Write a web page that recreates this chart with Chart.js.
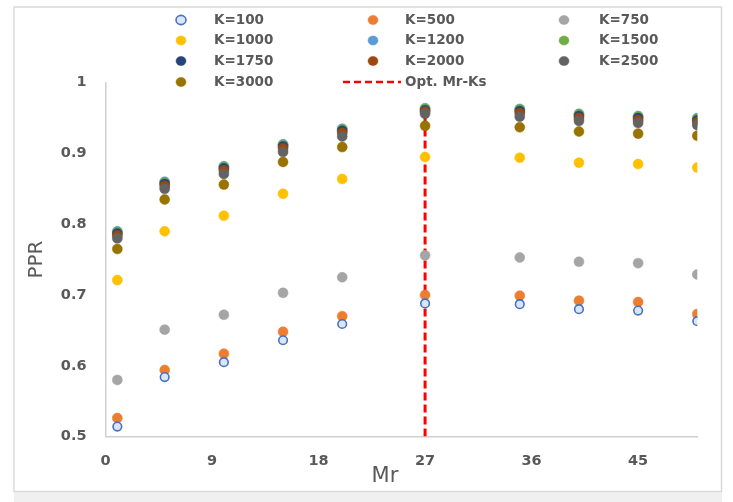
<!DOCTYPE html>
<html>
<head>
<meta charset="utf-8">
<script src="https://cdn.jsdelivr.net/npm/chart.js@4"></script>
<style>
html,body{margin:0;padding:0;background:#ffffff;}
#wrap{width:733px;height:502px;position:relative;}
</style>
</head>
<body>
<div id="wrap"><canvas id="c" width="733" height="502"></canvas></div>
<script>
// ---- data ----
const mrValues = [1, 5, 10, 15, 20, 27, 35, 40, 45, 50];
const seriesNames = ["K=100","K=500","K=750","K=1000","K=1200","K=1500","K=1750","K=2000","K=2500","K=3000"];
const k100  = [0.514, 0.584, 0.605, 0.636, 0.659, 0.688, 0.687, 0.680, 0.678, 0.663];
const k500  = [0.526, 0.594, 0.617, 0.648, 0.670, 0.700, 0.699, 0.692, 0.690, 0.673];
const k750  = [0.580, 0.651, 0.672, 0.703, 0.725, 0.756, 0.753, 0.747, 0.745, 0.729];
const k1000 = [0.721, 0.790, 0.812, 0.843, 0.864, 0.895, 0.894, 0.887, 0.885, 0.880];
const k1200 = [0.790, 0.860, 0.882, 0.913, 0.935, 0.964, 0.963, 0.956, 0.953, 0.950];
const k1500 = [0.789, 0.859, 0.881, 0.912, 0.934, 0.963, 0.962, 0.955, 0.952, 0.949];
const k1750 = [0.787, 0.857, 0.879, 0.910, 0.932, 0.961, 0.960, 0.953, 0.950, 0.947];
const k2000 = [0.784, 0.854, 0.876, 0.907, 0.929, 0.959, 0.957, 0.950, 0.947, 0.944];
const k2500 = [0.780, 0.850, 0.871, 0.902, 0.924, 0.956, 0.952, 0.946, 0.943, 0.940];
const k3000 = [0.765, 0.835, 0.856, 0.888, 0.909, 0.939, 0.937, 0.931, 0.928, 0.925];
const optLabel = "Opt. Mr-Ks";
const optX = [27, 27];
const optY = [0.5, 0.95];
const xTickStep = 9;
const yTicks = [0.5, 0.6, 0.7, 0.8, 0.9, 1];
const xTitle = "Mr";
const yTitle = "PPR";

// ---- styles ----
const seriesValues = [k100,k500,k750,k1000,k1200,k1500,k1750,k2000,k2500,k3000];
const colors = ["#4472C4","#ED7D31","#A5A5A5","#FFC000","#5B9BD5","#70AD47","#264478","#9E480E","#636363","#997300"];
const drawOrder = [1,10,9,8,7,6,5,4,3,2]; // lower = on top
const textGray = "#595959";

const datasets = seriesNames.map((name, i) => {
  const hollow = i === 0;
  return {
    type: 'scatter',
    label: name,
    data: mrValues.map((x, j) => ({x: x, y: seriesValues[i][j]})),
    backgroundColor: hollow ? "#DCE5F4" : colors[i],
    borderColor: colors[i],
    borderWidth: hollow ? 1.6 : 0.5,
    pointRadius: hollow ? 4.3 : 5,
    pointHoverRadius: 5,
    order: drawOrder[i]
  };
});
datasets.push({
  type: 'line',
  label: optLabel,
  data: optX.map((x, j) => ({x: x, y: optY[j]})),
  borderColor: "#FF0000",
  borderWidth: 3,
  borderDash: [8, 4],
  pointRadius: 0,
  fill: false,
  order: 20
});

const bgPlugin = {
  id: 'bg',
  beforeDraw(chart) {
    const ctx = chart.ctx;
    ctx.save();
    ctx.fillStyle = '#ffffff';
    ctx.fillRect(0, 0, chart.width, chart.height);
    ctx.fillStyle = '#f0f0f0';
    ctx.fillRect(14, 492, 708, chart.height - 492);
    ctx.strokeStyle = '#d9d9d9';
    ctx.lineWidth = 1.5;
    ctx.strokeRect(14, 7, 707.5, 484.5);
    ctx.restore();
  }
};

const legendPlugin = {
  id: 'gridLegend',
  afterDraw(chart) {
    const ctx = chart.ctx;
    const markerX = [181, 373, 564];
    const textX = [214, 405, 599];
    const rowY = [20, 40.5, 61, 82];
    ctx.save();
    ctx.font = 'bold 13.5px "DejaVu Sans", sans-serif';
    ctx.textBaseline = 'middle';
    ctx.textAlign = 'left';
    chart.data.datasets.forEach((ds, i) => {
      const c = i % 3, r = Math.floor(i / 3);
      const mx = markerX[c], my = rowY[r];
      if (ds.type === 'line') {
        ctx.strokeStyle = ds.borderColor;
        ctx.lineWidth = 2.5;
        ctx.setLineDash([7, 4]);
        ctx.beginPath();
        ctx.moveTo(343, my);
        ctx.lineTo(401, my);
        ctx.stroke();
        ctx.setLineDash([]);
        ctx.fillStyle = textGray;
        ctx.fillText(ds.label, 405, my);
      } else {
        ctx.beginPath();
        ctx.ellipse(mx, my, 5, 4.6, 0, 0, Math.PI * 2);
        ctx.fillStyle = ds.backgroundColor;
        ctx.fill();
        ctx.lineWidth = i === 0 ? 1.6 : 0.5;
        ctx.strokeStyle = ds.borderColor;
        ctx.stroke();
        ctx.fillStyle = textGray;
        ctx.fillText(ds.label, textX[c], my);
      }
    });
    // x-axis title (Excel places it slightly left of the plot centre)
    ctx.font = '21px "DejaVu Sans", sans-serif';
    ctx.textAlign = 'center';
    ctx.fillText(xTitle, 385, 477);
    ctx.restore();
  }
};

new Chart(document.getElementById('c'), {
  type: 'scatter',
  data: { datasets: datasets },
  plugins: [bgPlugin, legendPlugin],
  options: {
    responsive: false,
    devicePixelRatio: 1,
    animation: false,
    layout: { padding: { left: 20, top: 82.7, right: 35.7, bottom: 10 } },
    plugins: { legend: { display: false }, tooltip: { enabled: false } },
    scales: {
      x: {
        type: 'linear',
        min: 0,
        max: mrValues[mrValues.length - 1],
        grid: { display: false, drawTicks: false },
        border: { display: true, color: '#cfcfcf', width: 1.5 },
        ticks: {
          stepSize: xTickStep,
          padding: 16,
          color: textGray,
          font: { family: '"DejaVu Sans", sans-serif', size: 14.5, weight: 'bold' },
          maxRotation: 0
        },
        afterBuildTicks(scale) {
          scale.ticks = scale.ticks.filter(t => Math.abs(t.value % xTickStep) < 1e-9);
        },
        afterFit(scale) { scale.height = 55.5; },
        title: { display: false }
      },
      y: {
        type: 'linear',
        min: yTicks[0],
        max: yTicks[yTicks.length - 1],
        grid: { display: false, drawTicks: false },
        border: { display: true, color: '#cfcfcf', width: 1.5 },
        ticks: {
          stepSize: 0.1,
          padding: 19,
          color: textGray,
          font: { family: '"DejaVu Sans", sans-serif', size: 14.5, weight: 'bold' },
          callback: v => String(+Number(v).toFixed(1))
        },
        afterFit(scale) { scale.width = 85.5; },
        title: {
          display: true,
          text: yTitle,
          color: textGray,
          font: { family: '"DejaVu Sans", sans-serif', size: 20 },
          padding: { top: 5, bottom: 0 }
        }
      }
    }
  }
});
</script>
</body>
</html>
